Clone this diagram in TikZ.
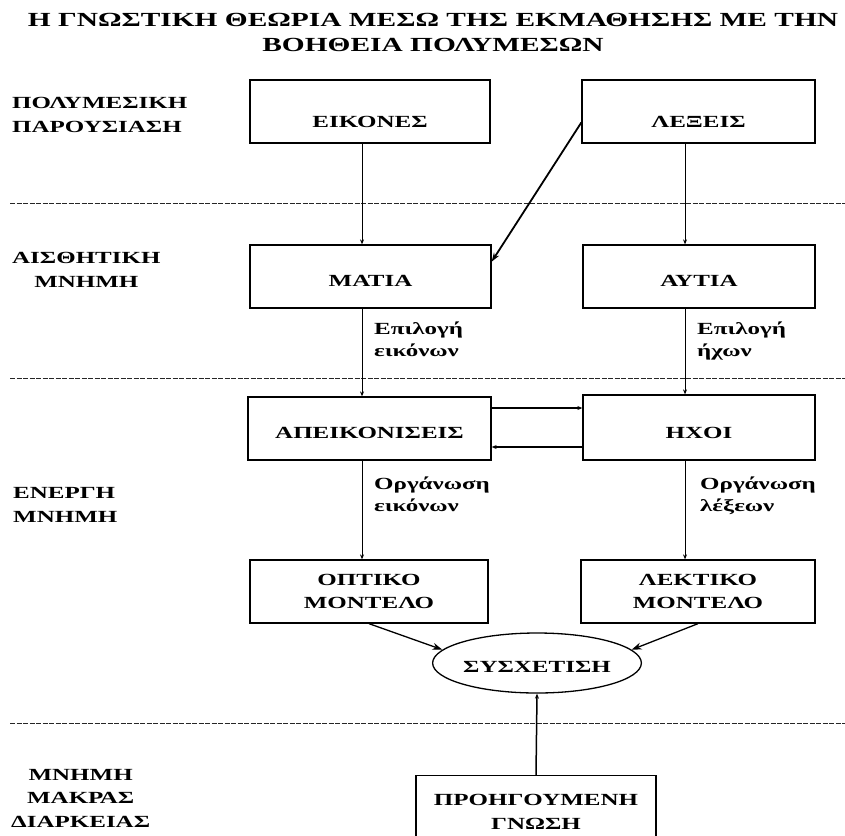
\documentclass[tikz,border=0pt]{standalone}
\usepackage{fontspec}
\setmainfont{Liberation Serif}[FakeStretch=1.47]
\usetikzlibrary{calc,arrows.meta,shapes.geometric}
\newcommand\labfont{\fontsize{17}{23.5}\selectfont\bfseries}
\newcommand\elabfont{\fontsize{17}{22}\selectfont\bfseries}
\newcommand\lowr[2]{\raisebox{-#1}[12pt][0pt]{#2}}
\begin{document}
\begin{tikzpicture}[x=1pt,y=-1pt,
  box/.style={draw, line width=1.3pt, inner sep=0pt, font=\labfont, align=center},
  elab/.style={inner sep=0pt, font=\elabfont, align=left},
  side/.style={inner sep=0pt, font=\labfont},
  arr/.style={-{Stealth[length=5pt,width=4pt]}, line width=1pt},
  thickarr/.style={-{Stealth[length=9pt,width=6pt]}, line width=1.8pt},
  arrb/.style={-{Stealth[length=10pt,width=7pt]}, line width=1.3pt},
  dline/.style={dash pattern=on 5pt off 1.5pt, line width=0.9pt, black!85}]
\useasboundingbox (0,0) rectangle (845,835);
\clip (0,0) rectangle (845,835);
% title
\node[inner sep=0pt, font=\fontsize{20}{25}\selectfont\bfseries, align=center] (title) at (433,32)
  {Η ΓΝΩΣΤΙΚΗ ΘΕΩΡΙΑ ΜΕΣΩ ΤΗΣ ΕΚΜΑΘΗΣΗΣ ΜΕ ΤΗΝ\\ΒΟΗΘΕΙΑ ΠΟΛΥΜΕΣΩΝ};
% dashed separators
\coordinate (d1a) at (10,203); \coordinate (d1b) at (845,203);
\coordinate (d2a) at (10,378); \coordinate (d2b) at (845,378);
\coordinate (d3a) at (10,723); \coordinate (d3b) at (845,723);
\draw[dline] (d1a) -- (d1b);
\draw[dline] (d2a) -- (d2b);
\draw[dline] (d3a) -- (d3b);
% side labels
\node[side, anchor=west, align=left] (s1) at (12,115) {ΠΟΛΥΜΕΣΙΚΗ\\ΠΑΡΟΥΣΙΑΣΗ};
\node[side, anchor=west, align=center] (s2) at (12,270) {ΑΙΣΘΗΤΙΚΗ\\ΜΝΗΜΗ};
\node[side, anchor=west, align=left] (s3) at (13,505) {ΕΝΕΡΓΗ\\ΜΝΗΜΗ};
\node[side, anchor=west, align=center] (s4) at (11,798) {ΜΝΗΜΗ\\ΜΑΚΡΑΣ\\ΔΙΑΡΚΕΙΑΣ};
% boxes
\node[box, minimum width=240, minimum height=63] (eikones) at (370,111.5) {\lowr{10pt}{ΕΙΚΟΝΕΣ}};
\node[box, minimum width=233, minimum height=63] (lexeis) at (698.5,111.5) {\lowr{10pt}{ΛΕΞΕΙΣ}};
\node[box, minimum width=241, minimum height=63] (matia) at (370.5,276.5) {\lowr{4pt}{ΜΑΤΙΑ}};
\node[box, minimum width=232, minimum height=63] (aftia) at (699,276.5) {\lowr{4pt}{ΑΥΤΙΑ}};
\node[box, minimum width=243, minimum height=63] (apeik) at (369.5,428.5) {\lowr{4pt}{ΑΠΕΙΚΟΝΙΣΕΙΣ}};
\node[box, minimum width=232, minimum height=65] (ixoi) at (699,427.5) {\lowr{5pt}{ΗΧΟΙ}};
\node[box, minimum width=238, minimum height=63] (optiko) at (369,591.5) {ΟΠΤΙΚΟ\\ΜΟΝΤΕΛΟ};
\node[box, minimum width=234, minimum height=63] (lektiko) at (698,591.5) {ΛΕΚΤΙΚΟ\\ΜΟΝΤΕΛΟ};
\node[ellipse, draw, line width=1.3pt, minimum width=202, minimum height=60, inner sep=0pt, font=\labfont] (sysx) at (537,663) {\lowr{3pt}{ΣΥΣΧΕΤΙΣΗ}};
\node[box, minimum width=240, minimum height=72, anchor=north] (proig) at (536,775) {ΠΡΟΗΓΟΥΜΕΝΗ\\ΓΝΩΣΗ};
% edge labels
\node[elab, anchor=north west] (e1) at (374,322) {Επιλογή\\εικόνων};
\node[elab, anchor=north west] (e2) at (697,322) {Επιλογή\\ήχων};
\node[elab, anchor=north west] (e3) at (374,477) {Οργάνωση\\εικόνων};
\node[elab, anchor=north west] (e4) at (700,477) {Οργάνωση\\λέξεων};
% columns
\coordinate (colL) at (362,0);
\coordinate (colR) at (685,0);
\draw[arr] (eikones.south -| colL) -- (matia.north -| colL);
\draw[arr] (matia.south -| colL) -- (apeik.north -| colL);
\draw[arr] (apeik.south -| colL) -- (optiko.north -| colL);
\draw[arr] (lexeis.south -| colR) -- (aftia.north -| colR);
\draw[arr] (aftia.south -| colR) -- (ixoi.north -| colR);
\draw[arr] (ixoi.south -| colR) -- (lektiko.north -| colR);
% diagonal
\draw[thickarr] ($(lexeis.north west)!0.67!(lexeis.south west)$) -- ($(matia.north east)!0.27!(matia.south east)$);
% horizontal pair
\coordinate (h1) at (0,408);
\coordinate (h2) at (0,447);
\draw[arr, line width=1.5pt] (apeik.east |- h1) -- (ixoi.west |- h1);
\draw[arr, line width=1.5pt] (ixoi.west |- h2) -- (apeik.east |- h2);
% into ellipse
\draw[arrb] (optiko.south) -- (sysx.172);
\draw[arrb] (lektiko.south) -- (sysx.8);
\draw[arr, line width=1.5pt] (proig.north) -- (sysx.south);
\end{tikzpicture}
\end{document}
